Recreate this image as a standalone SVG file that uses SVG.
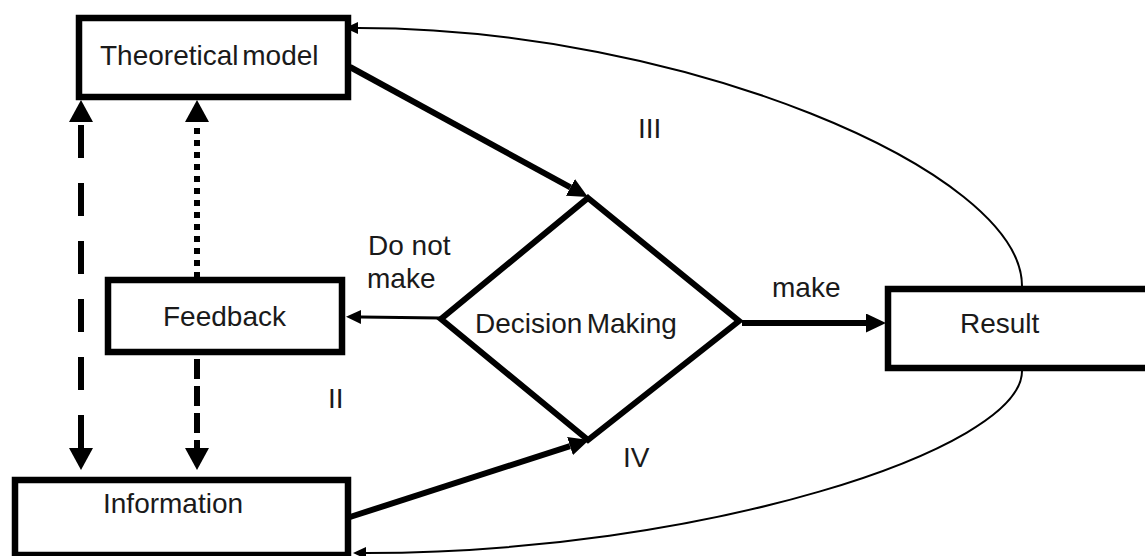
<svg xmlns="http://www.w3.org/2000/svg" width="1145" height="556" viewBox="0 0 1145 556">
<style>
.box{fill:#fff;stroke:#000;stroke-width:6.5}
.lbl{font-family:"Liberation Sans",Arial,sans-serif;font-size:28px;fill:#1a1a1a}
.thick{fill:none;stroke:#000;stroke-width:6}
.thin{fill:none;stroke:#000;stroke-width:3}
.curve{fill:none;stroke:#000;stroke-width:2}
</style>
<defs>
<marker id="bigA" markerUnits="userSpaceOnUse" viewBox="0 0 22 24" markerWidth="22" markerHeight="24" refX="0" refY="12" orient="auto-start-reverse">
<path d="M0,0 L22,12 L0,24 z" fill="#000"/>
</marker>
<marker id="midA" markerUnits="userSpaceOnUse" viewBox="0 0 20 19" markerWidth="20" markerHeight="19" refX="0" refY="9.5" orient="auto">
<path d="M0,0 L20,9.5 L0,19 z" fill="#000"/>
</marker>
<marker id="smA" markerUnits="userSpaceOnUse" viewBox="0 0 15 14" markerWidth="15" markerHeight="14" refX="0" refY="7" orient="auto">
<path d="M0,0 L15,7 L0,14 z" fill="#000"/>
</marker>
<marker id="tinyA" markerUnits="userSpaceOnUse" viewBox="0 0 13 12" markerWidth="13" markerHeight="12" refX="0" refY="6" orient="auto">
<path d="M0,0 L13,6 L0,12 z" fill="#000"/>
</marker>
</defs>

<g id="connectors">
<path class="thick" d="M350,67 L570.4,187.4" marker-end="url(#midA)"/>
<path class="thick" d="M350,517 L570,446.1" marker-end="url(#midA)"/>
<path class="thick" d="M742,323 L866,323" marker-end="url(#midA)"/>
<path class="thin" d="M440,318 L361,317" marker-end="url(#smA)"/>
<path class="thick" d="M81,122 L81,448" stroke-dasharray="33 25" stroke-dashoffset="55" marker-start="url(#bigA)" marker-end="url(#bigA)"/>
<path class="thick" d="M197,122 L197,277" stroke-dasharray="6 6" stroke-dashoffset="6" marker-start="url(#bigA)"/>
<path class="thick" d="M197,355 L197,448" stroke-dasharray="20 7" stroke-dashoffset="23" marker-end="url(#bigA)"/>
<path class="curve" d="M1022,286 C1022,170 680,28 358,28" marker-end="url(#tinyA)"/>
<path class="curve" d="M1022,371 C1022,450 700,553 366,553" marker-end="url(#tinyA)"/>
</g>

<g id="theoretical-model">
<rect class="box" x="79" y="18" width="269" height="79"/>
<text class="lbl" x="100" y="65" word-spacing="-4">Theoretical model</text>
</g>

<g id="feedback">
<rect class="box" x="108" y="280" width="234" height="72"/>
<text class="lbl" x="163" y="326">Feedback</text>
</g>

<g id="information">
<rect class="box" x="15" y="480" width="333" height="75"/>
<text class="lbl" x="103" y="513">Information</text>
</g>

<g id="decision-making">
<polygon points="588,198 739,321 588,440 441,319" fill="#fff" stroke="#000" stroke-width="6"/>
<text class="lbl" x="475" y="333" word-spacing="-3.5">Decision Making</text>
</g>

<g id="result">
<rect class="box" x="888" y="289" width="300" height="79"/>
<text class="lbl" x="960" y="333">Result</text>
</g>

<g id="labels">
<text class="lbl" x="772" y="297">make</text>
<text class="lbl" x="368" y="255">Do not</text>
<text class="lbl" x="367" y="288">make</text>
<text class="lbl" x="328" y="408">II</text>
<text class="lbl" x="638" y="138">III</text>
<text class="lbl" x="623" y="467">IV</text>
</g>
</svg>
